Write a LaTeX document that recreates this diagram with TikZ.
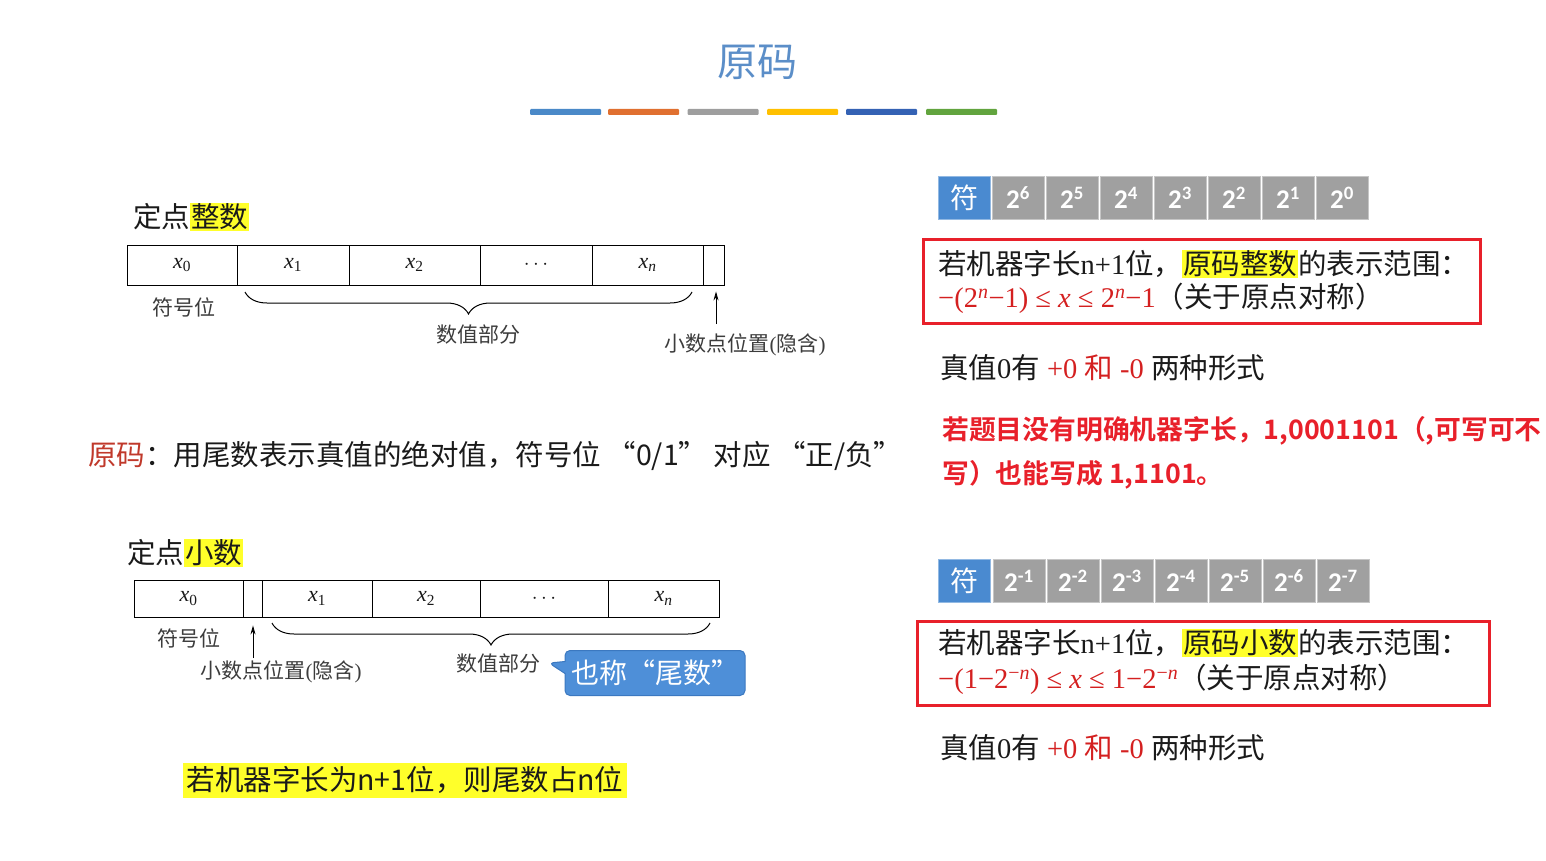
\documentclass[tikz,border=0pt]{standalone}
\usepackage{fontspec}
\setmainfont{Liberation Serif}
\newfontfamily\cjk[BoldFont={Noto Sans CJK SC Bold}]{Noto Sans CJK SC}
\newfontfamily\bitf{Carlito}
\usetikzlibrary{arrows.meta, decorations.pathreplacing, shapes.callouts}
\definecolor{TitleBlue}{HTML}{5B8EC8}
\definecolor{BarA}     {HTML}{4A89C8}
\definecolor{BarB}     {HTML}{E07030}
\definecolor{BarC}     {HTML}{9E9E9E}
\definecolor{BarD}     {HTML}{FFC000}
\definecolor{BarE}     {HTML}{3462B4}
\definecolor{BarF}     {HTML}{62A43E}
\definecolor{HlY}      {HTML}{FFFF2A}
\definecolor{TxtBlack} {HTML}{1A1A1A}
\definecolor{TxtRed}   {HTML}{C0392B}
\definecolor{FmRed}    {HTML}{D42020}
\definecolor{BoxRed}   {HTML}{E8202A}
\definecolor{BitBlue}  {HTML}{4A8AD0}
\definecolor{BitGray}  {HTML}{A0A0A0}
\definecolor{CallBlue} {HTML}{4E8FD8}
\definecolor{CallEdge} {HTML}{3B78C0}
\newcommand{\zh}[1]{{\cjk #1}}
\newcommand{\hlt}[1]{{\setlength{\fboxsep}{1pt}\colorbox{HlY}{#1}}}
\newcommand{\xs}[1]{\textit{x}\textsubscript{#1}}
\newcommand{\fsz}[1]{\fontsize{#1}{#1}\selectfont}
\tikzset{
  bar/.style args={#1}{
    rectangle, rounded corners=1pt, fill=#1, draw=none,
    minimum width=71pt, minimum height=6pt, inner sep=0pt,
  },
  cell/.style args={#1/#2}{
    rectangle, draw=black, line width=0.9pt, fill=white,
    minimum width=#1, minimum height=#2, inner sep=0pt,
    font=\fsz{22}, text=TxtBlack,
  },
  bit/.style args={#1}{
    rectangle, fill=#1, draw=#1!60!white, line width=0.6pt,
    minimum width=52pt, minimum height=43pt, inner sep=0pt,
    text=white, font=\bitf\bfseries\fsz{27},
  },
  rbox/.style args={#1/#2}{
    rectangle, draw=BoxRed, line width=3pt,
    minimum width=#1, minimum height=#2, inner sep=0pt,
  },
  txt/.style={
    anchor=west, inner sep=0pt, text=TxtBlack, font=\fsz{28.5},
  },
  lbl/.style={
    inner sep=0pt, text=TxtBlack!85!white, font=\cjk\fsz{21},
  },
  brc/.style={
    decorate, decoration={brace, mirror, amplitude=22pt},
    line width=1pt,
  },
  arr/.style={
    -{Stealth[length=9pt,width=5pt]}, line width=0.9pt,
  },
}

\begin{document}
\begin{tikzpicture}[x=1pt,y=-1pt]
    \useasboundingbox (0,0) rectangle (1546,861);
    \node[font=\cjk\fsz{40}, text=TitleBlue] (title) at (757,62) {原码};
    \node[bar=BarA] (ba) at (565.5,112) {}; \node[bar=BarB] (bb) at (643.5,112) {};
    \node[bar=BarC] (bc) at (723,112) {};   \node[bar=BarD] (bd) at (802.5,112) {};
    \node[bar=BarE] (be) at (881.5,112) {}; \node[bar=BarF] (bf) at (961.5,112) {};

    \node[txt] (hd1) at (133,217) {\zh{定点}\hlt{\zh{整数}}};
    \node[cell=110/40] (a0) at (182,265)   {\xs{0}};
    \node[cell=112/40] (a1) at (293,265)   {\xs{1}};
    \node[cell=131/40] (a2) at (414.5,265) {\xs{2}};
    \node[cell=112/40] (a3) at (536,265)   {$\cdots$};
    \node[cell=111/40] (a4) at (647.5,265) {\xs{\textit{n}}};
    \node[cell=21/40]  (a5) at (713.5,265) {};
    \node[lbl] (sg1) at (184,307) {符号位};
    \coordinate (b1l) at (245,292); \coordinate (b1r) at (692,292);
    \draw[brc] (b1l) -- (b1r);
    \node[lbl] (mv1) at (478,335) {数值部分};
    \coordinate (p1) at (716,324);
    \draw[arr, shorten >=6pt] (p1) -- (p1 |- a5.south);
    \node[lbl] (pt1) at (745,345) {小数点位置\textrm{(}隐含\textrm{)}};

    \node[txt, font=\cjk\fsz{28.5}] (def) at (88,456)
      {\textcolor{TxtRed}{原码}：用尾数表示真值的绝对值，符号位 “0/1” 对应 “正/负”};

    \node[txt] (hd2) at (127,553) {\zh{定点}\hlt{\zh{小数}}};
    \node[cell=109/37] (c0) at (188.5,598.5) {\xs{0}};
    \node[cell=19/37]  (c1) at (252.5,598.5) {};
    \node[cell=110/37] (c2) at (317,598.5)   {\xs{1}};
    \node[cell=108/37] (c3) at (426,598.5)   {\xs{2}};
    \node[cell=128/37] (c4) at (544,598.5)   {$\cdots$};
    \node[cell=111/37] (c5) at (663.5,598.5) {\xs{\textit{n}}};
    \node[lbl] (sg2) at (189,638) {符号位};
    \coordinate (p2) at (253,658);
    \draw[arr, shorten >=8pt] (p2) -- (p2 |- c1.south);
    \node[lbl] (pt2) at (281,672) {小数点位置\textrm{(}隐含\textrm{)}};
    \coordinate (b2l) at (272,623); \coordinate (b2r) at (710,623);
    \draw[brc] (b2l) -- (b2r);
    \node[lbl] (mv2) at (498,664) {数值部分};
    \coordinate (tip) at (549,663);
    \node[rectangle callout, callout absolute pointer={(tip)}, callout pointer width=12pt,
          rounded corners=5pt, fill=CallBlue, draw=CallEdge, line width=1pt,
          minimum width=180pt, minimum height=45pt, inner sep=0pt,
          text=white, font=\cjk\fsz{28}] (alias) at (655,673) {也称“尾数”};

    \node[fill=HlY, minimum width=444pt, minimum height=35pt, inner sep=0pt,
          text=TxtBlack, font=\cjk\fsz{28.5}] (note) at (405,780) {若机器字长为n+1位，则尾数占n位};

    \node[bit=BitBlue, font=\cjk\fsz{28}] (s1) at (964,198) {符};
    \node[bit=BitGray] (g16) at (1018,198) {2\textsuperscript{6}}; \node[bit=BitGray] (g15) at (1072,198) {2\textsuperscript{5}};
    \node[bit=BitGray] (g14) at (1126,198) {2\textsuperscript{4}}; \node[bit=BitGray] (g13) at (1180,198) {2\textsuperscript{3}};
    \node[bit=BitGray] (g12) at (1234,198) {2\textsuperscript{2}}; \node[bit=BitGray] (g11) at (1288,198) {2\textsuperscript{1}};
    \node[bit=BitGray] (g10) at (1342,198) {2\textsuperscript{0}};

    \node[rbox=557/84] (box1) at (1201.5,281) {};
    \node[txt] (r1a) at (938,264) {\zh{若机器字长}n+1\zh{位，}\hlt{\zh{原码整数}}\zh{的表示范围：}};
    \node[txt] (r1b) at (938,298)
      {\textcolor{FmRed}{−(2\textsuperscript{\textit{n}}−1) ≤ \textit{x} ≤ 2\textsuperscript{\textit{n}}−1}\zh{（关于原点对称）}};
    \node[txt] (z1) at (940,368)
      {\zh{真值}0\zh{有} \textcolor{FmRed}{+0 \zh{和} -0} \zh{两种形式}};

    \node[txt, text=BoxRed, font=\cjk\bfseries\fsz{26.8}] (w1) at (942,431) {若题目没有明确机器字长，1,0001101（,可写可不};
    \node[txt, text=BoxRed, font=\cjk\bfseries\fsz{26.8}] (w2) at (942,475) {写）也能写成 1,1101。};

    \node[bit=BitBlue, font=\cjk\fsz{28}] (s2) at (964,581) {符};
    \node[bit=BitGray] (g21) at (1019,581) {2\textsuperscript{-1}}; \node[bit=BitGray] (g22) at (1073,581) {2\textsuperscript{-2}};
    \node[bit=BitGray] (g23) at (1127,581) {2\textsuperscript{-3}}; \node[bit=BitGray] (g24) at (1181,581) {2\textsuperscript{-4}};
    \node[bit=BitGray] (g25) at (1235,581) {2\textsuperscript{-5}}; \node[bit=BitGray] (g26) at (1289,581) {2\textsuperscript{-6}};
    \node[bit=BitGray] (g27) at (1343,581) {2\textsuperscript{-7}};

    \node[rbox=572/84] (box2) at (1203,663) {};
    \node[txt] (r2a) at (938,643) {\zh{若机器字长}n+1\zh{位，}\hlt{\zh{原码小数}}\zh{的表示范围：}};
    \node[txt] (r2b) at (938,679)
      {\textcolor{FmRed}{−(1−2\textsuperscript{−\textit{n}}) ≤ \textit{x} ≤ 1−2\textsuperscript{−\textit{n}}}\zh{（关于原点对称）}};
    \node[txt] (z2) at (940,748)
      {\zh{真值}0\zh{有} \textcolor{FmRed}{+0 \zh{和} -0} \zh{两种形式}};
  \end{tikzpicture}
\end{document}
